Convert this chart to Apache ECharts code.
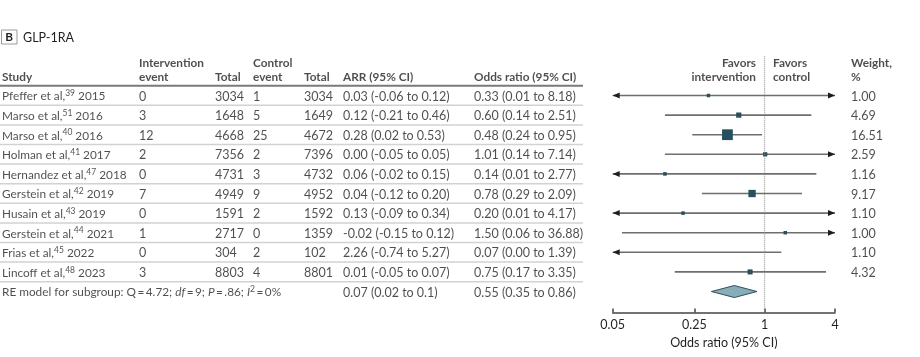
<!DOCTYPE html>
<html><head><meta charset="utf-8">
<script src="https://cdn.jsdelivr.net/npm/echarts@6/dist/echarts.min.js"></script>
<style>html,body{margin:0;padding:0;background:#fff}#c{width:920px;height:357px}</style>
</head><body><div id="c"></div>
<script>
// ---------------- data ----------------
const studyNames = ['Pfeffer et al,', 'Marso et al,', 'Marso et al,', 'Holman et al,', 'Hernandez et al,', 'Gerstein et al,', 'Husain et al,', 'Gerstein et al,', 'Frias et al,', 'Lincoff et al,'];
const studyRefs = ['39', '51', '40', '41', '47', '42', '43', '44', '45', '48'];
const studyYears = ['2015', '2016', '2016', '2017', '2018', '2019', '2019', '2021', '2022', '2023'];
const intEvents = [0, 3, 12, 2, 0, 7, 0, 1, 0, 3];
const intTotals = [3034, 1648, 4668, 7356, 4731, 4949, 1591, 2717, 304, 8803];
const ctrlEvents = [1, 5, 25, 2, 3, 9, 2, 0, 2, 4];
const ctrlTotals = [3034, 1649, 4672, 7396, 4732, 4952, 1592, 1359, 102, 8801];
const arrTexts = ['0.03 (-0.06 to 0.12)', '0.12 (-0.21 to 0.46)', '0.28 (0.02 to 0.53)', '0.00 (-0.05 to 0.05)', '0.06 (-0.02 to 0.15)', '0.04 (-0.12 to 0.20)', '0.13 (-0.09 to 0.34)', '-0.02 (-0.15 to 0.12)', '2.26 (-0.74 to 5.27)', '0.01 (-0.05 to 0.07)'];
const orEst = [0.33, 0.60, 0.48, 1.01, 0.14, 0.78, 0.20, 1.50, 0.07, 0.75];
const orLo = [0.01, 0.14, 0.24, 0.14, 0.01, 0.29, 0.01, 0.06, 0.00, 0.17];
const orHi = [8.18, 2.51, 0.95, 7.14, 2.77, 2.09, 4.17, 36.88, 1.39, 3.35];
const orMarkShown = [true, true, true, true, true, true, true, true, false, true]; // Frias point not drawn in source
const weights = [1.00, 4.69, 16.51, 2.59, 1.16, 9.17, 1.10, 1.00, 1.10, 4.32];
const summaryArrText = '0.07 (0.02 to 0.1)';
const summaryOr = [0.55, 0.35, 0.86]; // est, lo, hi
const hetQ = '4.72', hetDf = '9', hetP = '.86', hetI2 = '0%';
const axisTicks = [0.05, 0.25, 1, 4];

// ---------------- style / layout ----------------
const FF = 'Lato, sans-serif', FS = 12.5, FS2 = 11.8;
const TXT = '#231f20';
const L = Math.log10;
const X_MIN = L(axisTicks[0]), X_MAX = L(axisTicks[axisTicks.length - 1]);
const ROW_MIN = -2, ROW_MAX = 11.07;
const GRID_TOP = 56.3, GRID_BOTTOM = 44.5;
const COL = { study: 2, intE: 139, intT: 215, ctlE: 253, ctlT: 304, arr: 343, or: 474, w: 851, favL: 756, favR: 773, tableEnd: 583 };
const H1 = -1.72, H2 = -0.98;
const n = studyNames.length;
const fmt2 = v => v.toFixed(2);

const items = [];
function add(x, row, text, right) {
  const it = { value: [x, row], text: text };
  if (right) it.label = { position: 'left' };
  items.push(it);
}
// headers
add(COL.study, H2, '{b|Study}');
add(COL.intE, H1, '{b|Intervention}'); add(COL.intE, H2, '{b|event}');
add(COL.intT, H2, '{b|Total}');
add(COL.ctlE, H1, '{b|Control}'); add(COL.ctlE, H2, '{b|event}');
add(COL.ctlT, H2, '{b|Total}');
add(COL.arr, H2, '{b|ARR (95% CI)}');
add(COL.or, H2, '{b|Odds ratio (95% CI)}');
add(COL.favL, H1, '{b|Favors}', true); add(COL.favL, H2, '{b|intervention}', true);
add(COL.favR, H1, '{b|Favors}'); add(COL.favR, H2, '{b|control}');
add(COL.w, H1, '{b|Weight,}'); add(COL.w, H2, '{b|%}');
for (let i = 0; i < n; i++) {
  add(COL.study, i, '{t|' + studyNames[i] + '}{s|' + studyRefs[i] + '}{t| ' + studyYears[i] + '}');
  add(COL.intE, i, '{n|' + intEvents[i] + '}');
  add(COL.intT, i, '{n|' + intTotals[i] + '}');
  add(COL.ctlE, i, '{n|' + ctrlEvents[i] + '}');
  add(COL.ctlT, i, '{n|' + ctrlTotals[i] + '}');
  add(COL.arr, i, '{n|' + arrTexts[i] + '}');
  add(COL.or, i, '{n|' + fmt2(orEst[i]) + ' (' + fmt2(orLo[i]) + ' to ' + fmt2(orHi[i]) + ')}');
  add(COL.w, i, '{n|' + fmt2(weights[i]) + '}');
}
const T = '\u2009';
add(COL.study, n, '{t|RE model for subgroup: Q' + T + '=' + T + hetQ + '; }{i|df}{t|' + T + '=' + T + hetDf + '; }{i|P}{t|' + T + '=' + T + hetP + '; }{i|I}{s|2}{t|' + T + '=' + T + hetI2 + '}');
add(COL.arr, n, '{n|' + summaryArrText + '}');
add(COL.or, n, '{n|' + fmt2(summaryOr[0]) + ' (' + fmt2(summaryOr[1]) + ' to ' + fmt2(summaryOr[2]) + ')}');

// separators
const sepData = [[-0.5, 1]];
for (let i = 0; i < n; i++) sepData.push([i + 0.5, 0]);

// CI data
const ciData = [];
for (let i = 0; i < n; i++) {
  const lo = orLo[i] > 0 ? L(orLo[i]) : -Infinity;
  const hi = L(orHi[i]);
  ciData.push([Math.max(lo, X_MIN), Math.min(hi, X_MAX), i, lo < X_MIN ? 1 : 0, hi > X_MAX ? 1 : 0]);
}
const sqData = [];
for (let i = 0; i < n; i++) {
  if (!orMarkShown[i]) continue;
  sqData.push({ value: [L(orEst[i]), i], symbolSize: 3 + 0.47 * weights[i] });
}

const rich = {
  n: { fontFamily: FF, fontSize: FS, color: TXT, lineHeight: 15 },
  t: { fontFamily: FF, fontSize: FS2, color: TXT, lineHeight: 15 },
  b: { fontFamily: FF, fontSize: FS2, color: TXT, fontWeight: 'bold', lineHeight: 15 },
  i: { fontFamily: FF, fontSize: FS2, color: TXT, fontStyle: 'italic', lineHeight: 15 },
  s: { fontFamily: FF, fontSize: 8.5, color: TXT, verticalAlign: 'top' }
};

const chart = echarts.init(document.getElementById('c'), null, { renderer: 'canvas' });
chart.setOption({
  animation: false,
  backgroundColor: '#fff',
  grid: [
    { left: 612.7, right: 85, top: GRID_TOP, bottom: GRID_BOTTOM },
    { left: 0, right: 0, top: GRID_TOP, bottom: GRID_BOTTOM }
  ],
  xAxis: [
    {
      gridIndex: 0, type: 'value', min: X_MIN, max: X_MAX,
      axisLine: { show: true, onZero: false, lineStyle: { color: '#444', width: 1.5 } },
      axisTick: { show: true, inside: true, length: 4, customValues: axisTicks.map(L), lineStyle: { color: '#444', width: 1.5 } },
      axisLabel: { customValues: axisTicks.map(L), formatter: v => String(+Math.pow(10, v).toFixed(2)), margin: 6, color: TXT, fontFamily: FF, fontSize: FS },
      splitLine: { show: false },
      name: 'Odds ratio (95% CI)', nameLocation: 'middle', nameGap: 24,
      nameTextStyle: { color: TXT, fontFamily: FF, fontSize: FS }
    },
    { gridIndex: 1, type: 'value', min: 0, max: 920, show: false }
  ],
  yAxis: [
    { gridIndex: 0, type: 'value', inverse: true, min: ROW_MIN, max: ROW_MAX, show: false },
    { gridIndex: 1, type: 'value', inverse: true, min: ROW_MIN, max: ROW_MAX, show: false }
  ],
  graphic: [
    { type: 'rect', shape: { x: 1.5, y: 30, width: 15.5, height: 14 }, style: { fill: '#fff', stroke: '#9a9a9a', lineWidth: 1 } },
    { type: 'text', x: 9.25, y: 37.5, style: { text: 'B', fontFamily: FF, fontSize: FS2, fontWeight: 'bold', fill: TXT, align: 'center', verticalAlign: 'middle' } },
    { type: 'text', x: 23, y: 37.5, style: { text: 'GLP-1RA', fontFamily: FF, fontSize: FS, fill: TXT, align: 'left', verticalAlign: 'middle' } }
  ],
  series: [
    {
      type: 'custom', xAxisIndex: 1, yAxisIndex: 1, silent: true, clip: false,
      data: sepData,
      renderItem: (p, api) => {
        const y = api.value(0), dark = api.value(1);
        const a = api.coord([0, y]), b = api.coord([COL.tableEnd, y]);
        return { type: 'line', shape: { x1: a[0], y1: a[1], x2: b[0], y2: b[1] }, style: { stroke: dark ? '#7a7a7a' : '#d2d2d2', lineWidth: dark ? 2 : 1.5 } };
      }
    },
    {
      type: 'line', xAxisIndex: 0, yAxisIndex: 0, silent: true, symbol: 'none',
      data: [[0, ROW_MIN], [0, ROW_MAX]],
      lineStyle: { color: '#888', width: 1, type: 'dotted' }
    },
    {
      type: 'custom', xAxisIndex: 0, yAxisIndex: 0, silent: true, clip: false,
      data: ciData, encode: { x: [0, 1], y: 2 },
      renderItem: (p, api) => {
        const p1 = api.coord([api.value(0), api.value(2)]), p2 = api.coord([api.value(1), api.value(2)]);
        const ch = [{ type: 'line', shape: { x1: p1[0], y1: p1[1], x2: p2[0], y2: p2[1] }, style: { stroke: '#6e6e6e', lineWidth: 1.6 } }];
        if (api.value(3)) ch.push({ type: 'polygon', shape: { points: [[p1[0], p1[1]], [p1[0] + 7, p1[1] - 3], [p1[0] + 7, p1[1] + 3]] }, style: { fill: '#1e1e1e' } });
        if (api.value(4)) ch.push({ type: 'polygon', shape: { points: [[p2[0], p2[1]], [p2[0] - 7, p2[1] - 3], [p2[0] - 7, p2[1] + 3]] }, style: { fill: '#1e1e1e' } });
        return { type: 'group', children: ch };
      }
    },
    {
      type: 'scatter', xAxisIndex: 0, yAxisIndex: 0, silent: true, symbol: 'rect',
      data: sqData, itemStyle: { color: '#26505d', opacity: 1 }
    },
    {
      type: 'custom', xAxisIndex: 0, yAxisIndex: 0, silent: true, clip: false,
      data: [[L(summaryOr[1]), L(summaryOr[0]), L(summaryOr[2]), n]], encode: { x: [0, 1, 2], y: 3 },
      renderItem: (p, api) => {
        const r = api.value(3);
        const a = api.coord([api.value(0), r]), c = api.coord([api.value(1), r]), b = api.coord([api.value(2), r]);
        return { type: 'polygon', shape: { points: [[a[0], a[1]], [c[0], c[1] - 6], [b[0], b[1]], [c[0], c[1] + 6]] }, style: { fill: '#88acb8', stroke: '#2f4f5a', lineWidth: 1 } };
      }
    },
    {
      type: 'scatter', xAxisIndex: 1, yAxisIndex: 1, silent: true, clip: false, symbolSize: 0,
      data: items,
      label: { show: true, position: 'right', distance: 0, offset: [0, 1], formatter: p => p.data.text, rich: rich, fontFamily: FF, fontSize: FS, color: TXT }
    }
  ]
});
</script>
</body></html>
